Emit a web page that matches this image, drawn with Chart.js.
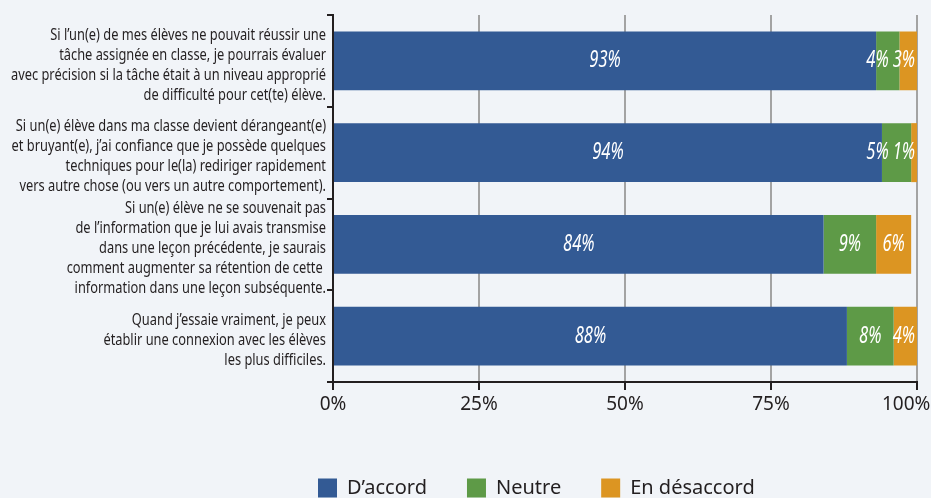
<!DOCTYPE html>
<html lang="fr">
<head>
<meta charset="utf-8">
<title>Sentiment d’efficacité des enseignants</title>
<script src="https://cdn.jsdelivr.net/npm/chart.js@4.4.1/dist/chart.umd.min.js"></script>
<style>
  html, body { margin: 0; padding: 0; background: #f1f4f8; }
  #wrap { width: 931px; height: 498px; }
</style>
</head>
<body>
<div id="wrap"><canvas id="chart" width="931" height="498"></canvas></div>
<script>
// one entry per statement, split into the lines shown on the axis
const statements = [
  ["Si l’un(e) de mes élèves ne pouvait réussir une", "tâche assignée en classe, je pourrais évaluer", "avec précision si la tâche était à un niveau approprié", "de difficulté pour cet(te) élève."],
  ["Si un(e) élève dans ma classe devient dérangeant(e)", "et bruyant(e), j’ai confiance que je possède quelques", "techniques pour le(la) rediriger rapidement", "vers autre chose (ou vers un autre comportement)."],
  ["Si un(e) élève ne se souvenait pas", "de l’information que je lui avais transmise", "dans une leçon précédente, je saurais", "comment augmenter sa rétention de cette ", "information dans une leçon subséquente."],
  ["Quand j’essaie vraiment, je peux", "établir une connexion avec les élèves", "les plus difficiles."]
];
const agree = [93, 94, 84, 88];
const neutral = [4, 5, 9, 8];
const disagree = [3, 1, 6, 4];
const seriesNames = ["D’accord", "Neutre", "En désaccord"];
const percentTicks = [0, 25, 50, 75, 100];

const colors = ["#335a94", "#5e9a47", "#dc9522"];
const ink = "#231f20";
const LEGEND_X = 318;   // left edge of the first legend swatch
const LEGEND_DY = 10;   // push the legend row down toward the bottom edge
const LEGEND_PAD = 40;
const LABEL_FONT = 16.5;
const LABEL_LINE = 20;
const LABEL_MAX_W = 315; // the widest statement line is squeezed to this width

// statement text on the left, condensed horizontally so long lines fit
const statementLabels = {
  id: "statementLabels",
  afterDraw(chart) {
    const { ctx } = chart;
    const y = chart.scales.y;
    const right = y.right - 7;
    ctx.save();
    ctx.font = LABEL_FONT + 'px "Noto Sans", sans-serif';
    ctx.fillStyle = ink;
    ctx.textAlign = "right";
    ctx.textBaseline = "middle";
    const lines = chart.data.labels.flat();
    const widest = Math.max(...lines.map(t => ctx.measureText(t).width));
    const sx = Math.min(1, LABEL_MAX_W / widest);
    chart.data.labels.forEach((label, i) => {
      const cy = y.getPixelForTick(i) + 4;
      const top = cy - (label.length - 1) * LABEL_LINE / 2;
      ctx.save();
      ctx.translate(right, 0);
      ctx.scale(sx, 1);
      label.forEach((t, k) => ctx.fillText(t, 0, top + k * LABEL_LINE));
      ctx.restore();
    });
    ctx.restore();
  }
};

// white percentages inside each segment; crowded ones slide left so they stay readable
const valueLabels = {
  id: "valueLabels",
  afterDatasetsDraw(chart) {
    const { ctx, chartArea } = chart;
    const sx = 0.72;
    ctx.save();
    ctx.font = 'italic 23px "Noto Sans", sans-serif';
    ctx.fillStyle = "#fff";
    ctx.textBaseline = "middle";
    ctx.textAlign = "left";
    chart.data.labels.forEach((_, i) => {
      let limit = chartArea.right - 2;
      for (let d = chart.data.datasets.length - 1; d >= 0; d--) {
        const bar = chart.getDatasetMeta(d).data[i];
        const text = chart.data.datasets[d].data[i] + "%";
        const w = ctx.measureText(text).width * sx;
        let x = (bar.x + bar.base) / 2 - w / 2;
        if (x + w > limit) x = limit - w;
        ctx.save();
        ctx.translate(x, bar.y);
        ctx.scale(sx, 1);
        ctx.fillText(text, 0, 0);
        ctx.restore();
        limit = x - 4;
      }
    });
    ctx.restore();
  }
};

// move the legend row off-centre, under the bars
const legendShift = {
  id: "legendShift",
  afterLayout(chart) {
    const lg = chart.legend;
    if (!lg || !lg.lineWidths) return;
    const start = (lg.left + LEGEND_PAD + lg.right - lg.lineWidths[0]) / 2;
    const dx = LEGEND_X - start;
    lg.left += dx;
    lg.right += dx;
    lg.top += LEGEND_DY;
    lg.bottom += LEGEND_DY;
  }
};

new Chart(document.getElementById("chart"), {
  type: "bar",
  data: {
    labels: statements,
    datasets: [
      { label: seriesNames[0], data: agree, backgroundColor: colors[0] },
      { label: seriesNames[1], data: neutral, backgroundColor: colors[1] },
      { label: seriesNames[2], data: disagree, backgroundColor: colors[2] }
    ]
  },
  options: {
    indexAxis: "y",
    responsive: false,
    animation: false,
    layout: { padding: { top: 15, right: 14, left: 0, bottom: 0 } },
    datasets: { bar: { categoryPercentage: 1, barPercentage: 0.643 } },
    scales: {
      x: {
        stacked: true,
        min: 0,
        max: 100,
        afterBuildTicks: s => { s.ticks = percentTicks.map(v => ({ value: v })); },
        ticks: {
          callback: v => v === 100 ? "100%\u2007\u2007" : v + "%",
          font: { family: "Noto Sans", size: 19 },
          color: ink,
          padding: 3,
          maxRotation: 0
        },
        grid: { color: "#a3a3a3", lineWidth: 2, tickColor: ink, tickLength: 8 },
        border: { color: ink, width: 2 },
        afterFit: s => {
          s.height = 498 - 382 - (20 + LEGEND_PAD + 10);
          s.paddingRight = 0;
        }
      },
      y: {
        stacked: true,
        ticks: { display: false },
        grid: { drawOnChartArea: false, offset: true, tickColor: ink, tickLength: 6, lineWidth: 2 },
        border: { color: ink, width: 2 },
        afterFit: s => {
          s.width = 333;
          s.paddingTop = 0;
          s.paddingBottom = 0;
        }
      }
    },
    plugins: {
      legend: {
        position: "bottom",
        labels: {
          boxWidth: 19,
          boxHeight: 19,
          padding: LEGEND_PAD,
          font: { family: "Noto Sans", size: 20 },
          color: ink
        }
      },
      tooltip: { enabled: false }
    }
  },
  plugins: [statementLabels, valueLabels, legendShift]
});
</script>
</body>
</html>
